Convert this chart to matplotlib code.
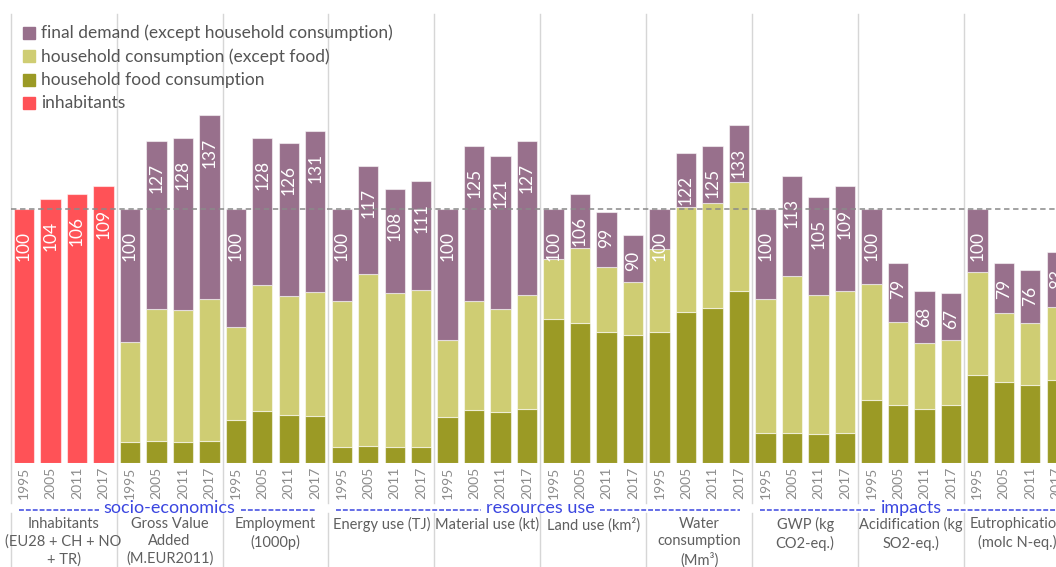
import matplotlib
matplotlib.use('Agg')
import matplotlib.pyplot as plt
from matplotlib.patches import Rectangle
from matplotlib.transforms import blended_transform_factory

plt.rcParams['font.family'] = ['Lato', 'DejaVu Sans']

# Data (index 1995 = 100)
years = ['1995', '2005', '2011', '2017']
group_labels = [
    'Inhabitants\n(EU28 + CH + NO\n+ TR)',
    'Gross Value\nAdded\n(M.EUR2011)',
    'Employment\n(1000p)',
    'Energy use (TJ)',
    'Material use (kt)',
    'Land use (km²)',
    'Water\nconsumption\n(Mm³)',
    'GWP (kg\nCO2-eq.)',
    'Acidification (kg\nSO2-eq.)',
    'Eutrophication\n(molc N-eq.)',
]
inhabitants = [100, 104, 106, 109]

# stacked indicator groups: GVA, employment, energy, material, land,
# water, GWP, acidification, eutrophication (4 years each)
food = [8.3, 8.9, 8.3, 8.9,
        17.1, 20.7, 19.0, 18.6,
        6.6, 6.8, 6.6, 6.6,
        18.4, 21.0, 20.3, 21.5,
        56.8, 55.1, 51.8, 50.5,
        51.8, 59.4, 61.2, 67.8,
        12.1, 12.1, 11.4, 12.1,
        25.1, 23.1, 21.5, 23.1,
        34.6, 32.0, 30.8, 32.9]
household = [39.5, 51.9, 52.2, 55.9,
             36.7, 49.5, 46.9, 48.7,
             57.4, 67.7, 60.3, 61.6,
             30.0, 43.0, 40.5, 44.9,
             23.8, 29.8, 25.5, 20.9,
             32.6, 41.4, 41.4, 43.0,
             52.7, 61.7, 55.0, 55.7,
             45.6, 32.5, 26.0, 25.3,
             40.7, 27.1, 24.6, 28.8]
final_demand = [52.2, 66.2, 67.5, 72.2,
                46.2, 57.8, 60.1, 63.7,
                36.0, 42.5, 41.1, 42.8,
                51.6, 61.0, 60.2, 60.6,
                19.4, 21.1, 21.7, 18.6,
                15.6, 21.2, 22.4, 22.2,
                35.2, 39.2, 38.6, 41.2,
                29.3, 23.4, 20.5, 18.6,
                24.7, 19.9, 20.6, 21.3]

headers = ['socio-economics', 'resources use', 'impacts']
header_spans = [(0, 3), (3, 7), (7, 10)]

C_FD = '#98708c'
C_HH = '#cfcd73'
C_FOOD = '#9b9a25'
C_INH = '#ff5257'
C_HEAD = '#3b46e0'

W, H = 1056, 567
BASE_Y, TOP_Y, PX_PER_UNIT = 463.3, 13.5, 2.54
LEFT_X, RIGHT_X = 10.7, 1070.0

fig = plt.figure(figsize=(W / 100, H / 100), dpi=100)
ax = fig.add_axes([LEFT_X / W, 1 - BASE_Y / H,
                   (RIGHT_X - LEFT_X) / W, (BASE_Y - TOP_Y) / H])
n_slots = 4 * len(group_labels)
ax.set_xlim(-0.5, n_slots - 0.5)
ax.set_ylim(0, (BASE_Y - TOP_Y) / PX_PER_UNIT)
ax.axis('off')

bw = 0.77
edge = dict(edgecolor=(1, 1, 1, 0.55), linewidth=0.8)
x_inh = list(range(4))
x_stk = list(range(4, n_slots))

ax.bar(x_inh, inhabitants, bw, color=C_INH, **edge)
ax.bar(x_stk, food, bw, color=C_FOOD, **edge)
ax.bar(x_stk, household, bw, bottom=food, color=C_HH, **edge)
bottom2 = [f + h for f, h in zip(food, household)]
ax.bar(x_stk, final_demand, bw, bottom=bottom2, color=C_FD, **edge)

totals = inhabitants + [b + d for b, d in zip(bottom2, final_demand)]
for x, t in zip(x_inh + x_stk, totals):
    lab = str(int(round(t)))
    gap = (4 + 6 * len(lab)) * 0.72
    ax.annotate(lab, xy=(x, t), xytext=(0, -gap), textcoords='offset points',
                rotation=90, ha='center', va='top', color='white',
                fontsize=12.5, zorder=6)

ax.axhline(100, color='#8a8a8a', lw=1.3, dashes=(3, 2), alpha=0.85, zorder=5)

# figure-pixel helpers
trans = blended_transform_factory(ax.transData, fig.transFigure)


def fy(y):
    return 1 - y / H


def data_x(px):
    return (px - LEFT_X) / (RIGHT_X - LEFT_X) * n_slots - 0.5


# group separators
for g in range(len(group_labels) + 1):
    xs = 4 * g - 0.5
    for y0, y1 in [(14, 503), (513, 567)]:
        ax.plot([xs, xs], [fy(y0), fy(y1)], transform=trans, color='#d6d6d6',
                lw=1, clip_on=False, zorder=0)

# year tick labels
for i in range(n_slots):
    ax.text(i, fy(467), years[i % 4], transform=trans, rotation=90,
            ha='center', va='top', color='#8c8c8c', fontsize=10)

# group labels
for g, lab in enumerate(group_labels):
    ax.text(4 * g + 1.5, fy(517), lab, transform=trans, ha='center',
            va='top', color='#5f5f5f', fontsize=10.5, linespacing=1.3)

# section headers with dashed rules on both sides
renderer = fig.canvas.get_renderer()
for name, (g0, g1) in zip(headers, header_spans):
    xc = (4 * g0 + 4 * g1 - 1) / 2
    t = ax.text(xc, fy(508), name, transform=trans, ha='center',
                va='center', color=C_HEAD, fontsize=13)
    bb = t.get_window_extent(renderer)
    x_start = 4 * g0 - 0.5 + data_x(LEFT_X + 8) + 0.5
    x_end = 4 * g1 - 0.5 - (data_x(LEFT_X + 12) + 0.5)
    for a, b in [(x_start, data_x(bb.x0 - 5)), (data_x(bb.x1 + 5), x_end)]:
        ax.plot([a, b], [fy(510), fy(510)], transform=trans, color=C_HEAD,
                lw=1.1, dashes=(3.2, 1.3), clip_on=False)

# legend
legend_items = [('final demand (except household consumption)', C_FD),
                ('household consumption (except food)', C_HH),
                ('household food consumption', C_FOOD),
                ('inhabitants', C_INH)]
for i, (lab, col) in enumerate(legend_items):
    yc = 33 + 23.3 * i
    fig.add_artist(Rectangle((23 / W, fy(yc + 6)), 12 / W, 12 / H,
                             transform=fig.transFigure, color=col))
    fig.text(41 / W, fy(yc), lab, ha='left', va='center', color='#555555',
             fontsize=12.5)

fig.savefig('out.png', dpi=100)
